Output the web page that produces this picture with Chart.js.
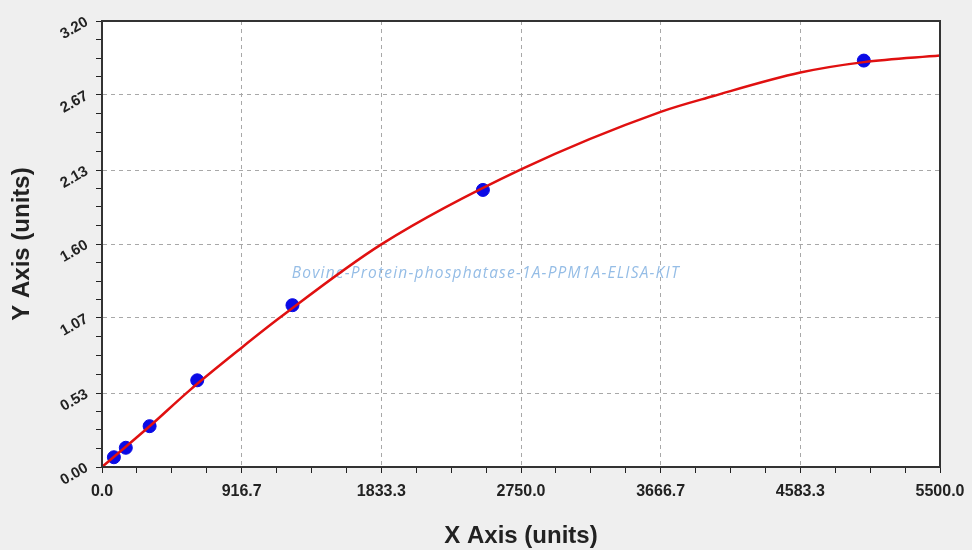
<!DOCTYPE html>
<html>
<head>
<meta charset="utf-8">
<script src="https://cdn.jsdelivr.net/npm/chart.js@4.4.1/dist/chart.umd.min.js"></script>
<style>
  html, body { margin: 0; padding: 0; background: #efefef; }
  #wrap { width: 972px; height: 550px; position: relative; }
</style>
</head>
<body>
<div id="wrap"><canvas id="c" width="972" height="550"></canvas></div>
<script>
// ---- data ----
const stdX = [78.125, 156.25, 312.5, 625, 1250, 2500, 5000];
const stdY = [0.070, 0.138, 0.293, 0.622, 1.161, 1.988, 2.916];

const curveX = [0, 312.5, 575, 916.7, 1166, 1833.3, 2750, 3666.7, 4008, 4583.3, 5000, 5500];
const curveY = [0, 0.292, 0.550, 0.856, 1.070, 1.597, 2.135, 2.548, 2.660, 2.830, 2.905, 2.952];

const xTickValues = [0, 229.17, 458.33, 687.5, 916.7, 1145.83, 1375, 1604.17, 1833.3, 2062.5, 2291.67, 2520.83, 2750.0, 2979.17, 3208.33, 3437.5, 3666.7, 3895.83, 4125, 4354.17, 4583.3, 4812.5, 5041.67, 5270.83, 5500.0];
const xTickLabels = ['0.0', '916.7', '1833.3', '2750.0', '3666.7', '4583.3', '5500.0'];
const yTickValues = [0, 0.1333, 0.2667, 0.4, 0.53, 0.6667, 0.8, 0.9333, 1.07, 1.2, 1.3333, 1.4667, 1.60, 1.7333, 1.8667, 2.0, 2.13, 2.2667, 2.4, 2.5333, 2.67, 2.8, 2.9333, 3.0667, 3.20];
const yTickLabels = ['0.00', '0.53', '1.07', '1.60', '2.13', '2.67', '3.20'];

const xTitle = 'X Axis (units)';
const yTitle = 'Y Axis (units)';
const watermark = 'Bovine-Protein-phosphatase-1A-PPM1A-ELISA-KIT';

const curveData = curveX.map((x, i) => ({ x: x, y: curveY[i] }));
const stdData = stdX.map((x, i) => ({ x: x, y: stdY[i] }));

const plotDeco = {
  id: 'plotDeco',
  beforeDraw(chart) {
    const { ctx, chartArea: a } = chart;
    ctx.save();
    ctx.fillStyle = '#efefef';
    ctx.fillRect(0, 0, chart.width, chart.height);
    ctx.fillStyle = '#ffffff';
    ctx.fillRect(a.left, a.top, a.right - a.left, a.bottom - a.top);
    ctx.restore();
  },
  beforeDatasetsDraw(chart) {
    const { ctx, chartArea: a } = chart;
    ctx.save();
    ctx.font = 'italic 15.5px "Open Sans", "Liberation Sans", sans-serif';
    try { ctx.letterSpacing = '1.2px'; } catch (e) {}
    ctx.fillStyle = '#95bde6';
    ctx.textAlign = 'center';
    ctx.textBaseline = 'middle';
    ctx.fillText(watermark, a.left + (a.right - a.left) * 0.458, a.top + (a.bottom - a.top) * 0.567);
    ctx.restore();
  },
  afterDraw(chart) {
    const { ctx, chartArea: a } = chart;
    ctx.save();
    ctx.strokeStyle = '#333333';
    ctx.lineWidth = 2;
    ctx.setLineDash([]);
    ctx.strokeRect(a.left, a.top, a.right - a.left, a.bottom - a.top);
    ctx.restore();
  }
};

const xTickFont = { family: '"Liberation Sans", Arial, sans-serif', size: 16, weight: 'bold' };
const yTickFont = { family: '"Liberation Sans", Arial, sans-serif', size: 15, weight: 'bold' };
const titleFont = { family: '"Liberation Sans", Arial, sans-serif', size: 24, weight: 'bold' };

new Chart(document.getElementById('c'), {
  type: 'scatter',
  data: {
    datasets: [
      {
        type: 'line',
        label: 'fit',
        data: curveData,
        borderColor: '#e01010',
        borderWidth: 2.5,
        pointRadius: 0,
        fill: false,
        cubicInterpolationMode: 'monotone',
        order: 0
      },
      {
        type: 'scatter',
        label: 'standards',
        data: stdData,
        backgroundColor: '#0a0ae6',
        borderColor: '#0a0ae6',
        pointRadius: 6.5,
        pointHoverRadius: 6.5,
        order: 1
      }
    ]
  },
  options: {
    responsive: false,
    animation: false,
    events: [],
    layout: { padding: { top: 21, right: 32, left: 0, bottom: 0 } },
    plugins: { legend: { display: false }, tooltip: { enabled: false } },
    scales: {
      x: {
        type: 'linear',
        min: 0,
        max: 5500,
        afterBuildTicks(scale) { scale.ticks = xTickValues.map(v => ({ value: v })); },
        afterFit(scale) { scale.height = 83; scale.paddingRight = 0; scale.paddingLeft = 0; },
        grid: {
          color: (c) => (c.index % 4 === 0 && c.index !== 0 && c.index !== xTickValues.length - 1) ? '#a8a8a8' : 'rgba(0,0,0,0)',
          tickColor: '#222222',
          tickLength: 6,
          lineWidth: 1,
          tickBorderDash: []
        },
        border: { display: true, color: '#222222', width: 2, dash: [4, 4] },
        ticks: {
          autoSkip: false,
          maxRotation: 0,
          padding: 9,
          color: '#222222',
          font: xTickFont,
          callback: (v, i) => (i % 4 === 0 ? xTickLabels[i / 4] : '')
        },
        title: { display: true, text: xTitle, color: '#222222', font: titleFont, padding: { top: 0, bottom: -1 } }
      },
      y: {
        type: 'linear',
        min: 0,
        max: 3.2,
        afterBuildTicks(scale) { scale.ticks = yTickValues.map(v => ({ value: v })); },
        afterFit(scale) { scale.width = 102; },
        grid: {
          color: (c) => (c.index % 4 === 0 && c.index !== 0 && c.index !== yTickValues.length - 1) ? '#a8a8a8' : 'rgba(0,0,0,0)',
          tickColor: '#222222',
          tickLength: 6,
          lineWidth: 1,
          tickBorderDash: []
        },
        border: { display: true, color: '#222222', width: 2, dash: [4, 4] },
        ticks: {
          autoSkip: false,
          minRotation: 30,
          maxRotation: 30,
          padding: 9,
          color: '#222222',
          font: yTickFont,
          callback: (v, i) => (i % 4 === 0 ? yTickLabels[i / 4] : '')
        },
        title: { display: true, text: yTitle, color: '#222222', font: titleFont, padding: { top: 8, bottom: 0 } }
      }
    }
  },
  plugins: [plotDeco]
});
</script>
</body>
</html>
